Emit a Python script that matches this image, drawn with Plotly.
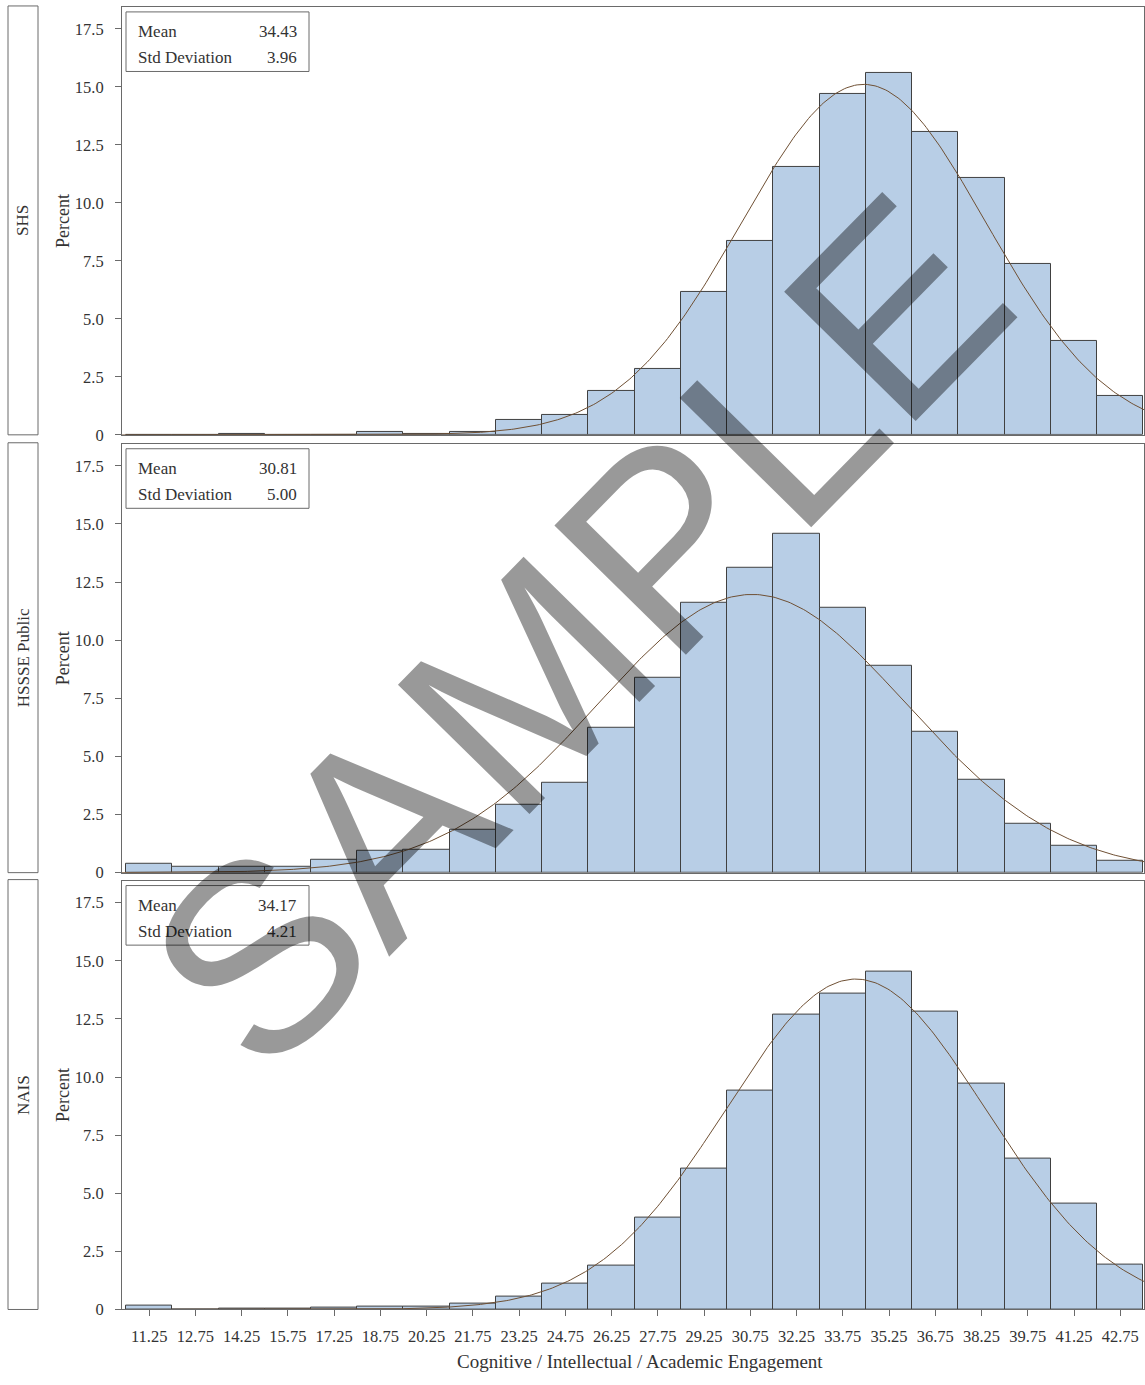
import numpy as np
import plotly.graph_objects as go

# ---- data -------------------------------------------------------------
bin_centers = [11.25, 12.75, 14.25, 15.75, 17.25, 18.75, 20.25, 21.75, 23.25, 24.75, 26.25,
               27.75, 29.25, 30.75, 32.25, 33.75, 35.25, 36.75, 38.25, 39.75, 41.25, 42.75]
bin_width = 1.5

groups = ["SHS", "HSSSE Public", "NAIS"]

pct_shs = [0.0, 0.0, 0.05, 0.0, 0.0, 0.13, 0.03, 0.12, 0.63, 0.87, 1.90,
           2.85, 6.18, 8.37, 11.57, 14.68, 15.60, 13.07, 11.08, 7.37, 4.05, 1.66]
pct_public = [0.37, 0.27, 0.24, 0.27, 0.54, 0.93, 1.00, 1.85, 2.92, 3.86, 6.23,
              8.39, 11.63, 13.12, 14.58, 11.41, 8.90, 6.08, 3.99, 2.12, 1.17, 0.53]
pct_nais = [0.17, 0.0, 0.02, 0.02, 0.07, 0.13, 0.11, 0.24, 0.54, 1.11, 1.89,
            3.95, 6.08, 9.43, 12.70, 13.60, 14.52, 12.83, 9.73, 6.49, 4.54, 1.95]
percents = [pct_shs, pct_public, pct_nais]

means = [34.43, 30.81, 34.17]
std_devs = [3.96, 5.00, 4.21]

y_tick_vals = [0, 2.5, 5, 7.5, 10, 12.5, 15, 17.5]
y_tick_text = ["0", "2.5", "5.0", "7.5", "10.0", "12.5", "15.0", "17.5"]
x_tick_text = [f"{v:.2f}" for v in bin_centers]

x_title = "Cognitive / Intellectual / Academic Engagement"
y_title = "Percent"

# ---- layout geometry (figure pixels) -----------------------------------
W, H = 1145, 1385
FONT = "Liberation Serif, Times New Roman, serif"
BAR_FILL = "#b8cee6"
BAR_LINE = "#404040"
CURVE = "#6f5034"
FRAME = "#6a6a6a"
TEXT = "#333333"

x_left_px, x_right_px = 122, 1144
panel_px = [(7, 438), (447, 879), (887, 1319)]
x_range = [10.37, 43.52]
y_range = [0, 18.45]


def px_x(p):
    return p / W


def px_y(p):
    return 1 - p / H


fig = go.Figure()
axis_names = ["", "2", "3"]

for i, (name, pct, mu, sd) in enumerate(zip(groups, percents, means, std_devs)):
    xa = "x" + axis_names[i]
    ya = "y" + axis_names[i]

    fig.add_trace(go.Bar(
        x=bin_centers, y=pct, width=bin_width,
        marker=dict(color=BAR_FILL, line=dict(color=BAR_LINE, width=1)),
        xaxis=xa, yaxis=ya, showlegend=False, hoverinfo="x+y",
    ))

    # fitted normal density, scaled to percent per bin
    xs = np.linspace(x_range[0], x_range[1], 400)
    ys = 100 * bin_width * np.exp(-0.5 * ((xs - mu) / sd) ** 2) / (sd * np.sqrt(2 * np.pi))
    fig.add_trace(go.Scatter(
        x=xs, y=ys, mode="lines", line=dict(color=CURVE, width=1),
        xaxis=xa, yaxis=ya, showlegend=False, hoverinfo="skip",
    ))

    top_px, bot_px = panel_px[i]
    dom_y = [px_y(bot_px), px_y(top_px)]
    is_bottom = i == 2

    xaxis_cfg = dict(
        domain=[px_x(x_left_px), px_x(x_right_px)], range=x_range,
        showline=True, mirror=True, linecolor=FRAME, linewidth=1,
        showgrid=False, zeroline=False, anchor=ya,
        tickmode="array", tickvals=bin_centers,
        ticktext=x_tick_text if is_bottom else [""] * len(bin_centers),
        ticks="outside" if is_bottom else "", ticklen=6, tickcolor=FRAME,
        showticklabels=is_bottom,
        tickfont=dict(family=FONT, size=16.5, color=TEXT),
        ticklabelstandoff=6,
    )
    if i > 0:
        xaxis_cfg["matches"] = "x"
    yaxis_cfg = dict(
        domain=dom_y, range=y_range, anchor=xa,
        showline=True, mirror=True, linecolor=FRAME, linewidth=1,
        showgrid=False, zeroline=False,
        tickmode="array", tickvals=y_tick_vals, ticktext=y_tick_text,
        ticks="outside", ticklen=6, tickcolor=FRAME,
        tickfont=dict(family=FONT, size=16.5, color=TEXT),
        ticklabelstandoff=8,
    )
    fig.layout["xaxis" + axis_names[i]] = xaxis_cfg
    fig.layout["yaxis" + axis_names[i]] = yaxis_cfg

    # row header box with rotated group name
    fig.add_shape(type="rect", xref="paper", yref="paper",
                  x0=px_x(8), x1=px_x(38), y0=px_y(bot_px), y1=px_y(top_px - 1),
                  line=dict(color=FRAME, width=1), fillcolor="white", layer="below")
    mid_px = (top_px + bot_px) / 2
    fig.add_annotation(text=name, xref="paper", yref="paper",
                       x=px_x(23), y=px_y(mid_px), textangle=-90, showarrow=False,
                       xanchor="center", yanchor="middle",
                       font=dict(family=FONT, size=17, color=TEXT))
    # y-axis title
    fig.add_annotation(text=y_title, xref="paper", yref="paper",
                       x=px_x(63), y=px_y(mid_px), textangle=-90, showarrow=False,
                       xanchor="center", yanchor="middle",
                       font=dict(family=FONT, size=18, color=TEXT))

    # statistics inset
    fig.add_shape(type="rect", xref="paper", yref="paper",
                  x0=px_x(126), x1=px_x(309), y0=px_y(top_px + 65), y1=px_y(top_px + 5),
                  line=dict(color=FRAME, width=1), fillcolor="rgba(0,0,0,0)")
    for label, val, dy in [("Mean", f"{mu:.2f}", 25), ("Std Deviation", f"{sd:.2f}", 51)]:
        fig.add_annotation(text=label, xref="paper", yref="paper",
                           x=px_x(136), y=px_y(top_px + dy), showarrow=False,
                           xanchor="left", yanchor="middle",
                           font=dict(family=FONT, size=17, color=TEXT))
        fig.add_annotation(text=val, xref="paper", yref="paper",
                           x=px_x(299), y=px_y(top_px + dy), showarrow=False,
                           xanchor="right", yanchor="middle",
                           font=dict(family=FONT, size=17, color=TEXT))

# x-axis title
fig.add_annotation(text=x_title, xref="paper", yref="paper",
                   x=px_x(640), y=px_y(1371), showarrow=False,
                   xanchor="center", yanchor="middle",
                   font=dict(family=FONT, size=19, color=TEXT))

# watermark
fig.add_annotation(text="SAMPLE", xref="paper", yref="paper",
                   x=px_x(578), y=px_y(637), showarrow=False, textangle=-45.5,
                   xanchor="center", yanchor="middle",
                   font=dict(family="Liberation Sans, Arial, sans-serif", size=268,
                             color="rgba(0,0,0,0.4)"))

fig.update_layout(
    width=W, height=H,
    margin=dict(l=0, r=0, t=0, b=0),
    paper_bgcolor="white", plot_bgcolor="white",
    bargap=0, barmode="overlay",
)

fig.write_html("out.html")
